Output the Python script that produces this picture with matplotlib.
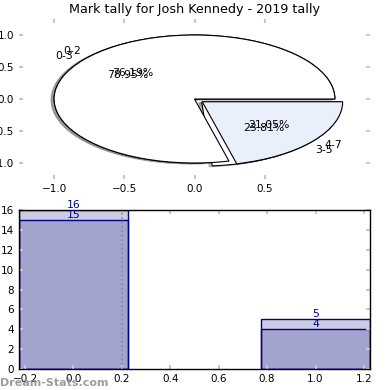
import numpy as np
import matplotlib.pyplot as plt
from matplotlib.ticker import MultipleLocator

plt.rcParams['font.size'] = 7.5

# tallies for the two seasons shown
title = 'Mark tally for Josh Kennedy - 2019 tally'
tally_a = [16, 5]
labels_a = ['0-2', '3-5']
tally_b = [15, 4]
labels_b = ['0-3', '4-7']
bar_pos = [0, 1]

fig = plt.figure(figsize=(3.9, 3.9), dpi=100)
W = H = 390.0

shadow = {'ox': -0.015, 'oy': -0.01, 'shade': 0.5}

#pie axes (no frame, but ticks kept)
ax1 = fig.add_axes([19/W, 1-179/H, 351/W, 160/H])
ax1.pie(tally_a, labels=labels_a, autopct='%.2f%%', explode=(0, 0.07), shadow=shadow,
        colors=['white', 'white'], wedgeprops={'edgecolor': 'black', 'linewidth': 0.8},
        textprops={'fontsize': 7.8}, labeldistance=1.1, pctdistance=0.6)
ax1.pie(tally_b, labels=labels_b, autopct='%.2f%%', explode=(0, 0.07), shadow=shadow,
        colors=['white', '#e9effb'], wedgeprops={'edgecolor': 'black', 'linewidth': 0.8},
        textprops={'fontsize': 7.8}, labeldistance=1.1, pctdistance=0.6)
ax1.set_aspect('auto')
ax1.set_xlim(-1.25, 1.25)
ax1.set_ylim(-1.25, 1.25)
ax1.set_xticks([-1.0, -0.5, 0.0, 0.5])
ax1.set_yticks([-1.0, -0.5, 0.0, 0.5, 1.0])
ax1.set_xticklabels(['−1.0', '−0.5', '0.0', '0.5'])
ax1.set_yticklabels(['−1.0', '−0.5', '0.0', '0.5', '1.0'])
for s in ax1.spines.values():
    s.set_visible(False)
ax1.tick_params(direction='in', length=3, width=1.5, color='#c8c8c8',
                top=True, right=True, labelsize=7.5)
ax1.set_title(title, fontsize=9.2, pad=4)

#bar axes
ax2 = fig.add_axes([19/W, 1-369/H, 351/W, 159/H])
bars_a = ax2.bar(bar_pos, tally_a, width=0.45, facecolor=(0, 0, 0.5, 0.2), edgecolor='navy', linewidth=1)
bars_b = ax2.bar(bar_pos, tally_b, width=0.45, facecolor=(0, 0, 0.5, 0.2), edgecolor='navy', linewidth=1)
for x, v in zip(bar_pos, tally_a):
    ax2.text(x, v, str(v), ha='center', va='bottom', color='navy', fontsize=7.8)
for x, v in zip(bar_pos, tally_b):
    ax2.text(x, v, str(v), ha='center', va='bottom', color='navy', fontsize=7.8)
ax2.set_xlim(-0.225, 1.225)
ax2.set_ylim(0, 16)
ax2.xaxis.set_major_locator(MultipleLocator(0.2))
ax2.yaxis.set_major_locator(MultipleLocator(2))
ax2.tick_params(direction='in', length=3, width=1.5, color='#c8c8c8',
                top=True, right=True, labelsize=7.5)
for s in ax2.spines.values():
    s.set_linewidth(1)

# dotted grid line only shows through the first bar
gl = ax2.axvline(0.2, color='#888899', linestyle=':', linewidth=1.2, zorder=3)
gl.set_clip_path(bars_a[0])

fig.text(0.0, 0.01, 'Dream-Stats.com', color='#8c8c8c', alpha=0.85, fontsize=8, fontweight='bold')

fig.savefig('out.png', dpi=100)
